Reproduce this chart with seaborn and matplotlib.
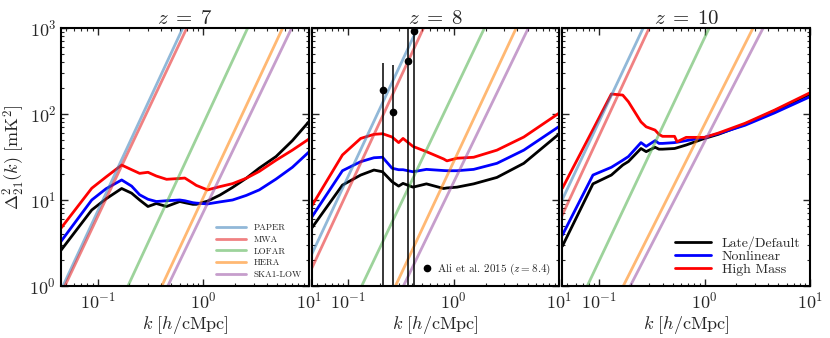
import numpy as np
import pandas as pd
import matplotlib
matplotlib.use("Agg")
import matplotlib.pyplot as plt
from matplotlib.lines import Line2D
import seaborn as sns

redshifts = [7, 8, 10]
models = ['Late/Default', 'Nonlinear', 'High Mass']
model_colors = ['black', 'blue', 'red']

# z = 7 power spectra, Delta^2_21 in mK^2
k_z7 = [0.045, 0.088, 0.12, 0.169, 0.21, 0.25, 0.30, 0.36, 0.45, 0.60, 0.67,
        0.80, 0.86, 1.1, 1.44, 1.9, 2.56, 3.4, 4.9, 7.0, 10]
late_z7 = [2.6, 7.65, 10.3, 13.6, 12.0, 10.0, 8.4, 9.1, 8.4, 9.6, 9.3,
           8.9, 8.9, 9.7, 11.4, 14.0, 17.9, 23.5, 32, 49, 81]
nonlin_z7 = [3.3, 10.0, 13.5, 17.1, 14.5, 11.5, 10.2, 9.6, 9.8, 10.0, 9.8,
             9.3, 9.2, 9.0, 9.5, 10.0, 11.3, 13.1, 17.5, 24, 36]
high_z7 = [4.7, 13.7, 18.5, 25.5, 22.5, 20.4, 21, 19, 17.4, 17.8, 18,
           15.7, 14.8, 13.1, 14.3, 15.5, 17.9, 21.5, 29, 38, 51]

# z = 8
k_z8 = [0.045, 0.088, 0.131, 0.175, 0.211, 0.26, 0.30, 0.33, 0.41, 0.55, 0.80,
        0.86, 1.07, 1.54, 2.56, 4.6, 10]
late_z8 = [4.7, 14.9, 19.5, 22.3, 21.3, 16.3, 14.5, 15.6, 14.1, 15.4, 13.6,
           13.8, 14.1, 15.4, 18.3, 26.7, 59]
nonlin_z8 = [6.3, 21.9, 27.9, 31, 31.4, 23.4, 22.5, 22.5, 21.3, 22.7, 22,
             21.9, 21.9, 22.7, 26.7, 38, 72]
high_z8 = [8.5, 33.4, 52, 58, 59, 54, 46.5, 52, 42, 36.5, 30,
           28.5, 30.6, 31.4, 38, 54, 103]

# z = 10
k_z10 = [0.045, 0.0877, 0.131, 0.168, 0.19, 0.25, 0.28, 0.34, 0.37, 0.40, 0.52,
         0.55, 0.67, 1.0, 1.35, 2.42, 4.6, 10]
late_z10 = [2.9, 15.4, 19.5, 25.5, 28, 39.7, 36.5, 41, 39, 39, 39.7,
            40.5, 43.6, 52, 58, 76, 109, 170]
nonlin_z10 = [3.9, 19.5, 24, 29, 32, 46.5, 42, 49, 45.5, 45.5, 46.5,
              47, 49, 53.5, 59, 74, 103, 159]
high_z10 = [13.7, 66, 171, 166, 139, 81, 71, 65, 58, 55, 55,
            47.6, 53.5, 53.5, 60, 78, 111, 177]

# instrument sensitivity lines: k where the line crosses 1 and 1000 mK^2
instruments = ['PAPER', 'MWA', 'LOFAR', 'HERA', 'SKA1-LOW']
inst_k_lo = {7: [0.047, 0.049, 0.194, 0.406, 0.463],
             8: [0.0326, 0.0377, 0.134, 0.28, 0.333],
             10: [0.0185, 0.0219, 0.0775, 0.17, 0.198]}
inst_k_hi = {7: [0.641, 0.70, 2.64, 5.66, 6.9],
             8: [0.453, 0.516, 1.95, 3.9, 5.08],
             10: [0.262, 0.299, 1.107, 2.88, 3.59]}
inst_d2 = [1, 1000]

# Ali et al. 2015 (z = 8.4) upper limits
ali_k = [0.213, 0.264, 0.366, 0.42]
ali_d2 = [190, 105, 413, 930]
ali_lo = [0.1, 0.1, 0.1, 0.1]
ali_hi = [395, 372, 5000, 5000]

curves = {7: (k_z7, [late_z7, nonlin_z7, high_z7]),
          8: (k_z8, [late_z8, nonlin_z8, high_z8]),
          10: (k_z10, [late_z10, nonlin_z10, high_z10])}

sns.set_style("ticks")
plt.rcParams['font.family'] = 'serif'
plt.rcParams['font.serif'] = ['cmr10']
plt.rcParams['mathtext.fontset'] = 'cm'
plt.rcParams['axes.formatter.use_mathtext'] = True
plt.rcParams['axes.unicode_minus'] = False

inst_colors = sns.color_palette("Set1")
inst_colors = [inst_colors[1], inst_colors[0], inst_colors[2], inst_colors[4], inst_colors[3]]

fig, axes = plt.subplots(1, 3, figsize=(8.3, 3.38), dpi=100, sharey=True)
fig.subplots_adjust(left=0.0735, right=0.976, top=0.917, bottom=0.154, wspace=0.012)

for ax, z in zip(axes, redshifts):
    k, vals = curves[z]
    df = pd.DataFrame({'k': np.tile(k, 3),
                       'd2': np.concatenate(vals),
                       'model': np.repeat(models, len(k))})
    sns.lineplot(data=df, x='k', y='d2', hue='model', palette=model_colors,
                 hue_order=models, lw=2, ax=ax, legend=False, estimator=None)

    for name, c, klo, khi in zip(instruments, inst_colors, inst_k_lo[z], inst_k_hi[z]):
        sns.lineplot(x=[klo, khi], y=inst_d2, color=c, alpha=0.55, lw=2, ax=ax)

    if z == 8:
        d2 = np.array(ali_d2)
        yerr = [d2 - np.array(ali_lo), np.array(ali_hi) - d2]
        ax.errorbar(ali_k, ali_d2, yerr=yerr, fmt='o', color='black',
                    ms=4.5, elinewidth=1.1, capsize=0, zorder=5)

    ax.set_xscale('log')
    ax.set_yscale('log')
    ax.set_xlim(0.045, 10)
    ax.set_ylim(1, 1000)
    ax.set_title(rf'$z\;=\;{z}$', fontsize=15, pad=3)
    ax.set_xlabel(r'$k\ [h/\mathrm{cMpc}]$', fontsize=13, labelpad=2)
    ax.set_ylabel('')
    ax.tick_params(which='both', direction='in', top=True, right=True, labelsize=13)
    ax.tick_params(which='major', length=5, width=1)
    ax.tick_params(which='minor', length=2.5, width=0.8)
    for s in ax.spines.values():
        s.set_linewidth(1.5)
        s.set_color('black')

axes[0].set_ylabel(r'$\Delta^2_{21}(k)\ [\mathrm{mK}^2]$', fontsize=13, labelpad=2)

inst_handles = [Line2D([], [], color=c, alpha=0.55, lw=2) for c in inst_colors]
axes[0].legend(inst_handles, instruments, loc='lower right', frameon=False,
               fontsize=6.5, handlelength=3.3, labelspacing=0.35,
               borderaxespad=0.4)

ali_handle = Line2D([], [], color='black', marker='o', ls='none', ms=4.5)
axes[1].legend([ali_handle], [r'Ali et al. 2015 ($z = 8.4$)'], loc='lower right',
               frameon=False, fontsize=8, handlelength=0.8, handletextpad=0.5,
               borderaxespad=0.4)

model_handles = [Line2D([], [], color=c, lw=2) for c in model_colors]
axes[2].legend(model_handles, models, loc='lower right', frameon=False,
               fontsize=10, handlelength=2.6, labelspacing=0.02,
               borderaxespad=0.3)

fig.savefig('out.png', dpi=100)
